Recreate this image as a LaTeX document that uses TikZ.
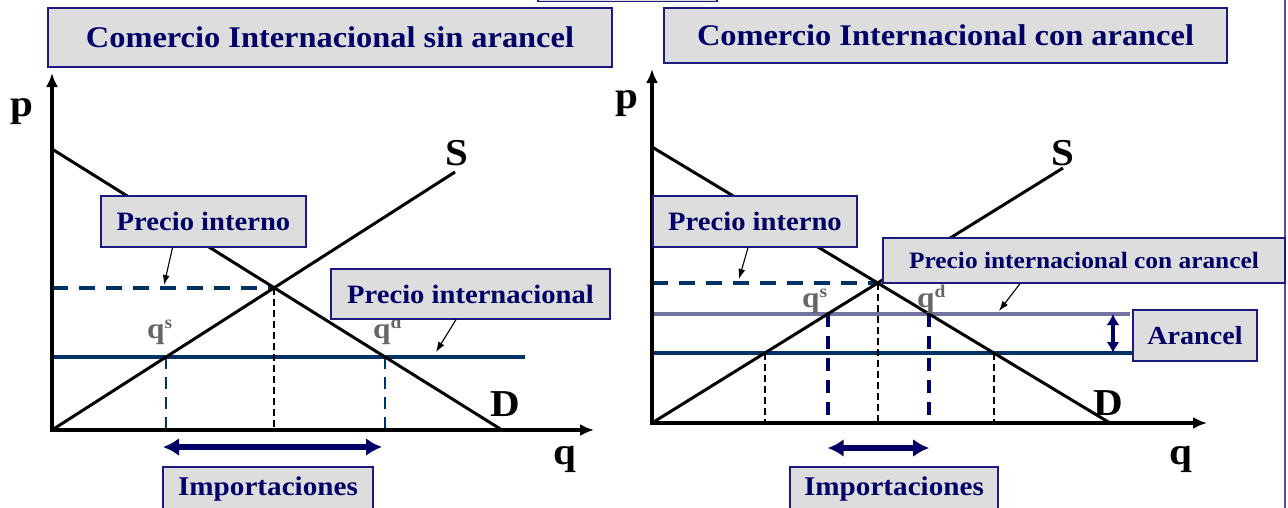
\documentclass[tikz,border=0pt]{standalone}
\usepackage{fontspec}
\setmainfont{Liberation Serif}[FakeStretch=1.08]
\usetikzlibrary{arrows.meta}
\definecolor{navy}{HTML}{000066}
\definecolor{boxfill}{HTML}{DDDDDD}
\definecolor{boxline}{HTML}{1A1A80}
\definecolor{pline}{HTML}{003366}
\definecolor{tline}{HTML}{7474A4}
\definecolor{qgray}{HTML}{666666}
\definecolor{frameline}{HTML}{5050A0}
\newcommand\fs[1]{\fontsize{#1}{#1}\selectfont\bfseries}
\newcommand\qlab[1]{q\raisebox{10pt}{\fontsize{18}{18}\selectfont #1}}
\begin{document}
\begin{tikzpicture}[x=1pt,y=-1pt,
  labelbox/.style={draw=boxline, fill=boxfill, line width=1.3pt, text=navy, inner sep=0pt},
  axis/.style={line width=3.6pt, -{Latex[length=14pt,width=12pt]}},
  curve/.style={line width=3pt, black},
  axlab/.style={font=\fs{38}, text=black, inner sep=0pt},
  qsym/.style={font=\fs{29}, text=qgray, inner sep=0pt, anchor=base west},
  worldline/.style={line width=4pt, pline},
  tariffline/.style={line width=4pt, tline},
  pricedash/.style={line width=4pt, pline, dash pattern=on 16pt off 11pt},
  thindash/.style={line width=1.8pt, black, dash pattern=on 7pt off 4pt},
  bluedash/.style={line width=2.5pt, pline, dash pattern=on 12pt off 8pt},
  navydash/.style={line width=3.6pt, navy, dash pattern=on 13pt off 9pt},
  pointer/.style={line width=1.1pt, black, -{Latex[length=10pt,width=7pt]}},
  imports/.style={line width=5.5pt, navy, {Latex[length=16pt,width=18pt]}-{Latex[length=16pt,width=18pt]}},
  tariffarrow/.style={line width=3.2pt, navy, {Latex[length=11pt,width=13pt]}-{Latex[length=11pt,width=13pt]}}
]
\useasboundingbox (0,0) rectangle (1288,507);
\fill[white] (0,0) rectangle (1288,507);

% partial box at top and right frame
\draw[boxline, line width=1.5pt, fill=boxfill] (538,-10) rectangle (717,1.5);
\draw[frameline, line width=1.5pt] (1285,-2) -- (1285,509);

% ================= LEFT PANEL =================
\coordinate (LO) at (52,430);
\coordinate (LYT) at (52,73);
\coordinate (LXT) at (594,430);
\coordinate (LD1) at (52,149);
\coordinate (LD2) at (502,430);
\coordinate (LS2) at (455,172);
\coordinate (LW1) at (52,357);
\coordinate (LW2) at (525,357);
\coordinate (LE) at (intersection of LD1--LD2 and LO--LS2);
\coordinate (LQs) at (intersection of LO--LS2 and LW1--LW2);
\coordinate (LQd) at (intersection of LD1--LD2 and LW1--LW2);
\coordinate (LIa) at (163,447);
\coordinate (LIb) at (382,447);

\draw[worldline] (LW1) -- (LW2);
\draw[pricedash] (LE -| LO) -- (LE);
\draw[thindash] (LE) -- (LE |- LO);
\draw[bluedash] (LQs) -- (LQs |- LO);
\draw[bluedash] (LQd) -- (LQd |- LO);
\draw[curve] (LD1) -- (LD2);
\draw[curve] (LO) -- (LS2);
\draw[axis] (LO) -- (LYT);
\draw[axis] ([xshift=-1.8pt]LO) -- (LXT);
\draw[imports] (LIa) -- (LIb);

\node[axlab] (Lp) at (22,112) {p};
\node[axlab] (Lq) at (565,459) {q};
\node[axlab] (LSl) at (457,153) {S};
\node[axlab] (LDl) at (505,404) {D};
\node[qsym] (Lqs) at (147,338) {\qlab{s}};
\node[qsym] (Lqd) at (373,338) {\qlab{d}};

\node[labelbox, minimum width=564pt, minimum height=59pt, font=\fs{30}] (LT) at (330,37.5) {Comercio Internacional sin arancel};
\node[labelbox, minimum width=205pt, minimum height=51pt, font=\fs{26.5}] (LPI) at (203.5,221.5) {Precio interno};
\node[labelbox, minimum width=279pt, minimum height=50pt, font=\fs{26.5}] (LPX) at (470.5,294) {Precio internacional};
\node[labelbox, minimum width=210pt, minimum height=44pt, font=\fs{27}] (LIM) at (268,489) {Importaciones};
\coordinate (LPIt) at (164,285);
\coordinate (LPXt) at (436,352);
\draw[pointer] ([xshift=-31pt]LPI.south) -- (LPIt);
\draw[pointer] ([xshift=-14.5pt]LPX.south) -- (LPXt);

% ================= RIGHT PANEL =================
\coordinate (RO) at (652,423);
\coordinate (RYT) at (652,69);
\coordinate (RXT) at (1207,423);
\coordinate (RD1) at (652,147);
\coordinate (RD2) at (1110,423);
\coordinate (RS2) at (1063,168);
\coordinate (RT1) at (652,314);
\coordinate (RT2) at (1130,314);
\coordinate (RW1) at (652,353);
\coordinate (RW2) at (1135,353);
\coordinate (RE) at (intersection of RD1--RD2 and RO--RS2);
\coordinate (RQs) at (intersection of RO--RS2 and RT1--RT2);
\coordinate (RQd) at (intersection of RD1--RD2 and RT1--RT2);
\coordinate (RWs) at (intersection of RO--RS2 and RW1--RW2);
\coordinate (RWd) at (intersection of RD1--RD2 and RW1--RW2);
\coordinate (RIY) at (0,448);

\draw[worldline] (RW1) -- (RW2);
\draw[tariffline] (RT1) -- (RT2);
\draw[pricedash] (RE -| RO) -- (RE);
\draw[thindash] (RE) -- (RE |- RO);
\draw[thindash] (RWs) -- (RWs |- RO);
\draw[thindash] (RWd) -- (RWd |- RO);
\draw[navydash] (RQs) -- (RQs |- RO);
\draw[navydash] (RQd) -- (RQd |- RO);
\draw[curve] (RD1) -- (RD2);
\draw[curve] (RO) -- (RS2);
\draw[axis] (RO) -- (RYT);
\draw[axis] ([xshift=-1.8pt]RO) -- (RXT);
\draw[imports] (RQs |- RIY) -- (RQd |- RIY);
\coordinate (RAt) at (1113,314);
\coordinate (RAb) at (1113,353);
\draw[tariffarrow] (RAt) -- (RAb);

\node[axlab] (Rp) at (627,104) {p};
\node[axlab] (Rq) at (1181,459) {q};
\node[axlab] (RSl) at (1063,153) {S};
\node[axlab] (RDl) at (1108,403) {D};
\node[qsym] (Rqs) at (802,307) {\qlab{s}};
\node[qsym] (Rqd) at (917,307) {\qlab{d}};

\node[labelbox, minimum width=563pt, minimum height=55pt, font=\fs{30}] (RT) at (945.5,35.5) {Comercio Internacional con arancel};
\node[labelbox, minimum width=204pt, minimum height=51pt, font=\fs{26.5}] (RPI) at (755,221.5) {Precio interno};
\node[labelbox, minimum width=402pt, minimum height=45pt, font=\fs{23.5}] (RPX) at (1084,260.5) {Precio internacional con arancel};
\node[labelbox, minimum width=124pt, minimum height=51pt, font=\fs{26}] (RAR) at (1195,335.5) {Arancel};
\node[labelbox, minimum width=208pt, minimum height=44pt, font=\fs{27}] (RIM) at (894,489) {Importaciones};
\coordinate (RPIt) at (739,279);
\coordinate (RPXt) at (999,311);
\draw[pointer] ([xshift=-7pt]RPI.south) -- (RPIt);
\draw[pointer] ([xshift=-64pt]RPX.south) -- (RPXt);
\end{tikzpicture}
\end{document}
